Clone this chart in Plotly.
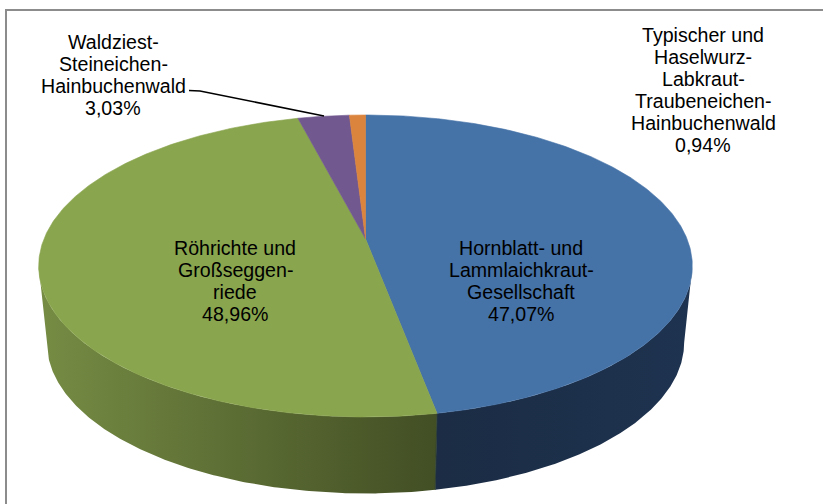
import numpy as np
import plotly.graph_objects as go

# ---- data ----
categories = [["Hornblatt- und", "Lammlaichkraut-", "Gesellschaft"],
              ["Röhrichte und", "Großseggen-", "riede"],
              ["Waldziest-", "Steineichen-", "Hainbuchenwald"],
              ["Typischer und", "Haselwurz-", "Labkraut-", "Traubeneichen-", "Hainbuchenwald"]]
values = [47.07, 48.96, 3.03, 0.94]
top_colors = ["#4572A7", "#89A54E", "#71588F", "#DB843D"]
wall_gradients = [["#1B2C44", "#1E3350"], ["#768C44", "#424E24"], ["#71588F", "#71588F"], ["#DB843D", "#DB843D"]]
label_positions = [(521, 248), (235, 248), (113, 42), (703, 35)]
LINE_STEP = 22

# ---- projection of the pie disc (perspective-tilted circle) ----
CX, CY, A, B, P = 365.5, 238.8, 321.5, 146.1, 0.18
DEPTH, BOTTOM_SCALE = 76.5, 0.975


def top_edge(theta):
    w = 1 + P * np.cos(theta)
    return CX + A * np.sin(theta) / w, CY - B * np.cos(theta) / w


def bottom_edge(theta):
    x, y = top_edge(theta)
    return CX + BOTTOM_SCALE * (x - CX), y + DEPTH


fig = go.Figure()
edges = np.cumsum([0] + values) / sum(values) * 2 * np.pi
right_limit = np.arccos(-P)
left_limit = 2 * np.pi - np.arccos(-P)

# side walls (only the part facing the viewer)
for i in range(len(values)):
    lo, hi = max(edges[i], right_limit), min(edges[i + 1], left_limit)
    if hi <= lo:
        continue
    t = np.linspace(lo, hi, 200)
    xt, yt = top_edge(t)
    xb, yb = bottom_edge(t)
    c = wall_gradients[i]
    fig.add_trace(go.Scatter(
        x=np.r_[xt, xb[::-1]], y=np.r_[yt, yb[::-1]], mode="lines", fill="toself",
        line=dict(width=0), hoverinfo="skip", showlegend=False,
        fillgradient=dict(type="horizontal", colorscale=[[0, c[0]], [1, c[1]]]),
    ))

# seam between the two visible walls
sx0, sy0 = top_edge(edges[1])
sx1, sy1 = bottom_edge(edges[1])
fig.add_trace(go.Scatter(x=[sx0, sx1], y=[sy0, sy1], mode="lines",
                         line=dict(color="#2E3F35", width=1), hoverinfo="skip", showlegend=False))

# top faces
for i in range(len(values)):
    t = np.linspace(edges[i], edges[i + 1], 300)
    x, y = top_edge(t)
    fig.add_trace(go.Scatter(
        x=np.r_[CX, x, CX], y=np.r_[CY, y, CY], mode="lines", fill="toself",
        fillcolor=top_colors[i], line=dict(width=0.6, color=top_colors[i]),
        hoverinfo="skip", showlegend=False,
    ))

# labels
for lines, v, (lx, ly) in zip(categories, values, label_positions):
    pct = f"{v:.2f}%".replace(".", ",")
    for k, text in enumerate(lines + [pct]):
        fig.add_annotation(
            x=lx, y=ly + k * LINE_STEP, xref="x", yref="y", showarrow=False, align="center",
            text=text, font=dict(family="Liberation Sans, Arial, sans-serif", size=19.6, color="#000000"),
        )

# leader line and chart frame
fig.add_shape(type="path", path="M189,90.5 L200,91 L324,116", line=dict(color="#000000", width=1.5), xref="x", yref="y")
fig.add_shape(type="path", path="M6,504 L6,10 L823,10", line=dict(color="#8C8C8C", width=2), xref="x", yref="y")

fig.update_layout(
    width=823, height=504, margin=dict(l=0, r=0, t=0, b=0),
    paper_bgcolor="white", plot_bgcolor="white", showlegend=False,
    xaxis=dict(range=[0, 823], visible=False, fixedrange=True),
    yaxis=dict(range=[504, 0], visible=False, fixedrange=True),
)
fig.write_html("out.html", config={"displayModeBar": False},
               post_script="document.body.style.margin='0';document.body.style.overflow='hidden';")
